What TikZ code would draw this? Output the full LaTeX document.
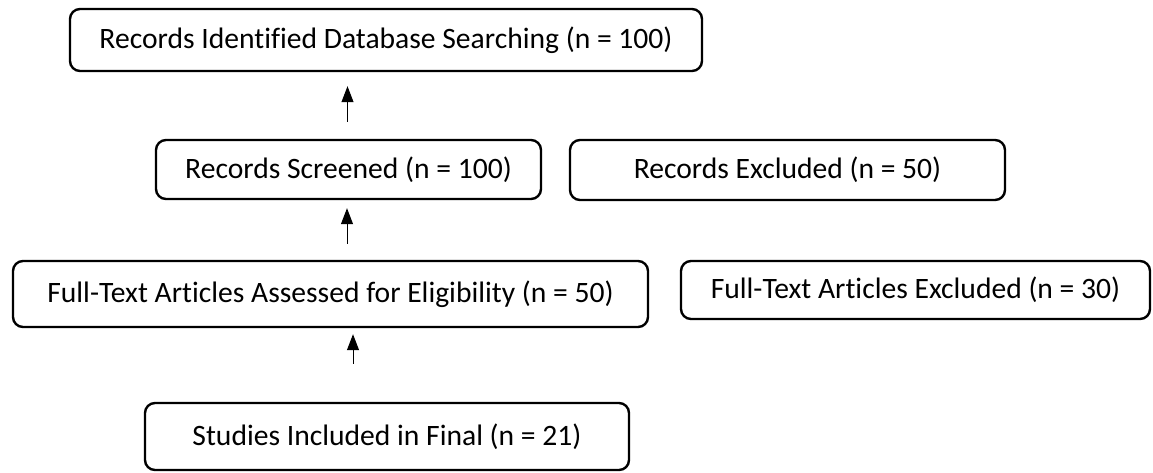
\documentclass[tikz,border=0pt]{standalone}
\usepackage{fontspec}
\setmainfont{Carlito}[Ligatures=NoCommon]
\usetikzlibrary{arrows.meta}
\begin{document}
\begin{tikzpicture}[x=1pt,y=-1pt,
    riquadro/.style={draw,line width=2.4pt,rounded corners=10pt,inner sep=0pt,align=center,font=\fontsize{29.6}{34}\selectfont},
    freccia/.style={-{Triangle[width=12pt,length=16pt]},line width=1pt}]
      \useasboundingbox (0,0) rectangle (1153,472);
      %riquadri
      \node[riquadro,minimum width=632pt,minimum height=62pt] (ident) at (386,40) {Records Identified Database Searching (n = 100)};
      \node[riquadro,minimum width=385pt,minimum height=59pt] (screen) at (348.5,169.5) {Records Screened (n = 100)};
      \node[riquadro,minimum width=435pt,minimum height=60pt] (recex) at (787.5,170) {Records Excluded (n = 50)};
      \node[riquadro,minimum width=635pt,minimum height=66pt] (assess) at (330.5,294) {Full-Text Articles Assessed for Eligibility (n = 50)};
      \node[riquadro,minimum width=469pt,minimum height=58pt] (ftex) at (915.5,290) {Full-Text Articles Excluded (n = 30)};
      \node[riquadro,minimum width=484pt,minimum height=67pt] (studies) at (387,436.5) {Studies Included in Final (n = 21)};
      %frecce
      \coordinate (a1) at ([xshift=-1pt,yshift=17pt]screen.north);
      \coordinate (a2) at ([xshift=16.5pt,yshift=16pt]assess.north);
      \coordinate (a3) at ([xshift=-34pt,yshift=38pt]studies.north);
      \draw[freccia] (a1) -- ([yshift=-14pt]ident.south -| a1);
      \draw[freccia] (a2) -- ([yshift=-8pt]screen.south -| a2);
      \draw[freccia] (a3) -- ([yshift=-6pt]assess.south -| a3);
    \end{tikzpicture}
\end{document}
